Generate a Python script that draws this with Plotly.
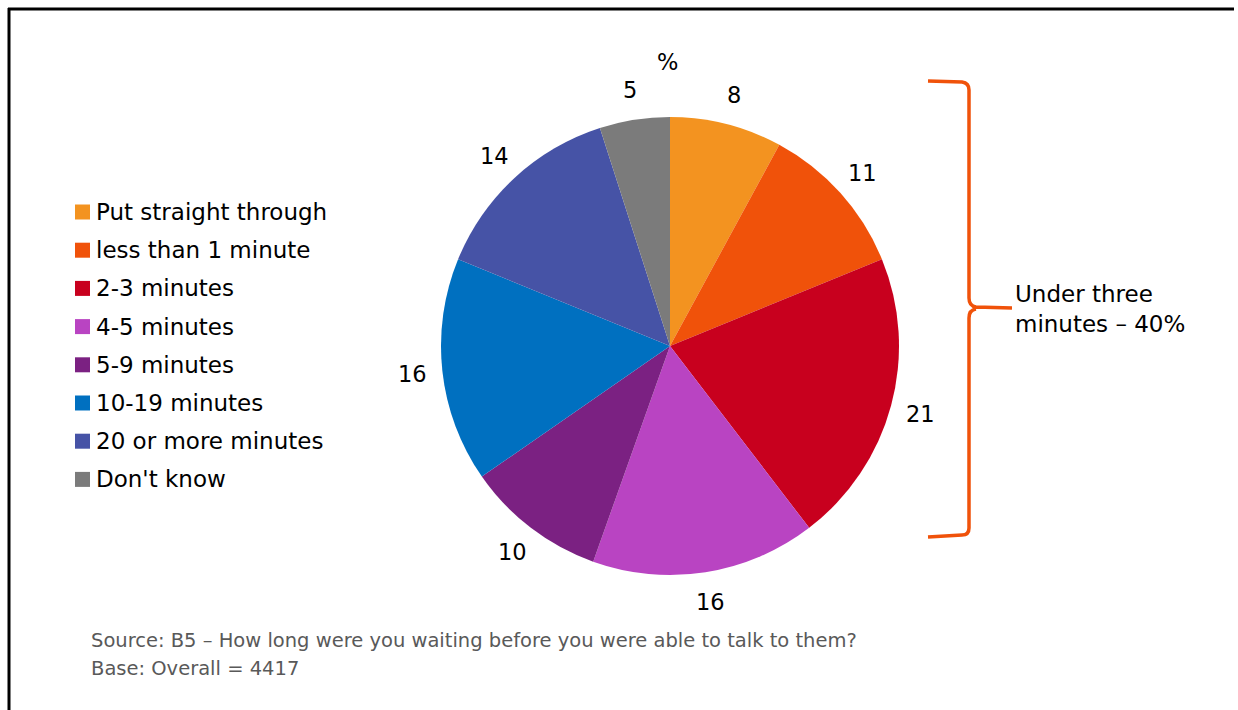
import numpy as np
import plotly.graph_objects as go

# Waiting time categories and shares (%)
categories = ["Put straight through", "less than 1 minute", "2-3 minutes", "4-5 minutes",
              "5-9 minutes", "10-19 minutes", "20 or more minutes", "Don't know"]
shares = [8, 11, 21, 16, 10, 16, 14, 5]
colors = ["#F39320", "#F0520A", "#C8001E", "#B944C2",
          "#7B2182", "#0070C0", "#4653A6", "#7B7B7B"]

bracket_label = "Under three<br>minutes – 40%"
source_lines = ["Source: B5 – How long were you waiting before you were able to talk to them?",
                "Base: Overall = 4417"]

W, H = 1238, 710
FONT = "DejaVu Sans"

# pie geometry in pixels
cx, cy, r = 670, 346, 229
label_r = 259

fig = go.Figure()
fig.add_trace(go.Pie(
    labels=categories, values=shares, sort=False, direction="clockwise", rotation=0,
    marker=dict(colors=colors, line=dict(width=0)),
    textinfo="none", hoverinfo="label+value", showlegend=False,
    domain=dict(x=[(cx - r) / W, (cx + r) / W], y=[1 - (cy + r) / H, 1 - (cy - r) / H]),
))

annotations = []
# value labels outside each slice, placed at the slice mid-angle
total = sum(shares)
cum = np.cumsum([0] + shares[:-1])
for v, c0 in zip(shares, cum):
    ang = 2 * np.pi * (c0 + v / 2) / total
    x = cx + label_r * np.sin(ang)
    y = cy - label_r * np.cos(ang)
    annotations.append(dict(x=x, y=y, xref="x", yref="y", text=str(v), showarrow=False,
                            font=dict(family=FONT, size=22.5, color="#000000")))

annotations.append(dict(x=667, y=62, xref="x", yref="y", text="%", showarrow=False,
                        font=dict(family=FONT, size=22.5, color="#000000")))

# legend built from categories
shapes = []
leg_y0, leg_step = 212, 38.2
for i, (name, col) in enumerate(zip(categories, colors)):
    y = leg_y0 + i * leg_step
    shapes.append(dict(type="rect", xref="x", yref="y", x0=75, x1=90, y0=y - 7.5, y1=y + 7.5,
                       fillcolor=col, line=dict(width=0)))
    annotations.append(dict(x=94, y=y, xref="x", yref="y", text=name, showarrow=False,
                            xanchor="left", yanchor="middle",
                            font=dict(family=FONT, size=23, color="#000000")))

# bracket grouping the first three categories
bracket = ("M 928,81 L 962,82 Q 969,83 969,90 L 969,298 Q 969,306 976,307 L 1012,308 "
           "M 976,309 Q 969,310 969,318 L 969,528 Q 969,535 962,535 L 928,537")
shapes.append(dict(type="path", xref="x", yref="y", path=bracket,
                   line=dict(color="#F0520A", width=3.5)))
annotations.append(dict(x=1013, y=309, xref="x", yref="y", text=bracket_label, showarrow=False,
                        xanchor="left", yanchor="middle", align="left",
                        font=dict(family=FONT, size=23, color="#000000")))

# source notes
for i, line in enumerate(source_lines):
    annotations.append(dict(x=89, y=640 + i * 28, xref="x", yref="y", text=line, showarrow=False,
                            xanchor="left", yanchor="middle",
                            font=dict(family=FONT, size=19.5, color="#595959")))

# frame lines along the top and left
shapes.append(dict(type="line", xref="x", yref="y", x0=8, x1=1234, y0=9, y1=9,
                   line=dict(color="#000000", width=3)))
shapes.append(dict(type="line", xref="x", yref="y", x0=9, x1=9, y0=8, y1=H,
                   line=dict(color="#000000", width=3)))

fig.update_layout(
    width=W, height=H, margin=dict(l=0, r=0, t=0, b=0),
    paper_bgcolor="#FFFFFF", plot_bgcolor="rgba(0,0,0,0)",
    xaxis=dict(range=[0, W], visible=False, fixedrange=True),
    yaxis=dict(range=[H, 0], visible=False, fixedrange=True),
    shapes=shapes, annotations=annotations, showlegend=False,
)

fig.write_html("out.html")
